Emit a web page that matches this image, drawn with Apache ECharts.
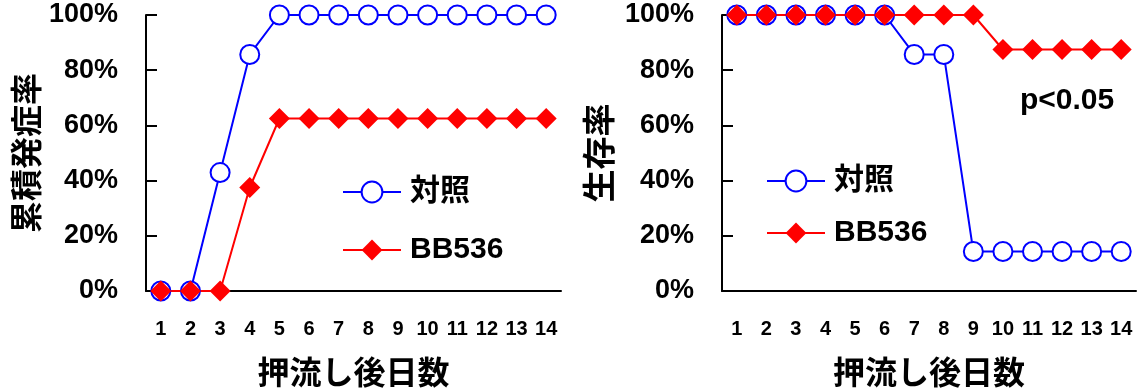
<!DOCTYPE html>
<html>
<head>
<meta charset="utf-8">
<script src="https://cdn.jsdelivr.net/npm/echarts@6/dist/echarts.min.js"></script>
<style>
  html, body { margin: 0; padding: 0; background: #fff; }
  #chart { width: 1140px; height: 389px; }
</style>
</head>
<body>
<div id="chart"></div>
<script>
// Days after challenge
const days = ['1', '2', '3', '4', '5', '6', '7', '8', '9', '10', '11', '12', '13', '14'];

// Cumulative onset rate (%)
const onsetControl = [0, 0, 42.9, 85.7, 100, 100, 100, 100, 100, 100, 100, 100, 100, 100];
const onsetBB536   = [0, 0, 0, 37.5, 62.5, 62.5, 62.5, 62.5, 62.5, 62.5, 62.5, 62.5, 62.5, 62.5];

// Survival rate (%)
const survivalControl = [100, 100, 100, 100, 100, 100, 85.7, 85.7, 14.3, 14.3, 14.3, 14.3, 14.3, 14.3];
const survivalBB536   = [100, 100, 100, 100, 100, 100, 100, 100, 100, 87.5, 87.5, 87.5, 87.5, 87.5];

const seriesNames = ['対照', 'BB536'];
const xAxisTitle = '押流し後日数';
const yAxisTitles = ['累積発症率', '生存率'];
const significance = 'p<0.05';

const FONT = "'Liberation Sans', 'Noto Sans CJK JP', sans-serif";
const BLUE = '#0000ff';
const RED = '#ff0000';

function xAxisFor(gridIndex) {
  return {
    type: 'category',
    gridIndex: gridIndex,
    data: days,
    boundaryGap: true,
    name: xAxisTitle,
    nameLocation: 'middle',
    nameGap: 68,
    nameTextStyle: { fontFamily: FONT, fontWeight: 'bold', fontSize: 32, color: '#000' },
    axisLine: { lineStyle: { color: '#000', width: 2 } },
    axisTick: { inside: true, length: 7, interval: 0, lineStyle: { color: '#000', width: 2 } },
    axisLabel: { interval: 0, margin: 28, fontFamily: FONT, fontWeight: 'bold', fontSize: 20, color: '#000' },
    splitLine: { show: false }
  };
}

function yAxisFor(gridIndex, title, titleSize, titleGap) {
  return {
    type: 'value',
    gridIndex: gridIndex,
    min: 0,
    max: 100,
    interval: 20,
    name: title,
    nameLocation: 'middle',
    nameGap: titleGap,
    nameTextStyle: { fontFamily: FONT, fontWeight: 'bold', fontSize: titleSize, color: '#000' },
    axisLine: { show: true, lineStyle: { color: '#000', width: 2 } },
    axisTick: { show: true, inside: true, length: 11, lineStyle: { color: '#000', width: 2 } },
    axisLabel: {
      margin: 28, formatter: '{value}%', fontFamily: FONT, fontWeight: 'bold', fontSize: 27, color: '#000',
      padding: [8, 0, 0, 0]
    },
    splitLine: { show: false }
  };
}

function controlSeries(axisIndex, values) {
  return {
    name: seriesNames[0],
    type: 'line',
    xAxisIndex: axisIndex,
    yAxisIndex: axisIndex,
    data: values,
    symbol: 'circle',
    symbolSize: 19,
    lineStyle: { color: BLUE, width: 2 },
    itemStyle: { color: '#fff', borderColor: BLUE, borderWidth: 2 },
    animation: false
  };
}

function bbSeries(axisIndex, values) {
  return {
    name: seriesNames[1],
    type: 'line',
    xAxisIndex: axisIndex,
    yAxisIndex: axisIndex,
    data: values,
    symbol: 'diamond',
    symbolSize: 21,
    lineStyle: { color: RED, width: 2 },
    itemStyle: { color: RED, borderWidth: 0 },
    animation: false
  };
}

function legendRow(name, left, top) {
  return {
    data: [name],
    left: left,
    top: top,
    padding: 0,
    itemWidth: 58,
    itemHeight: 26,
    selectedMode: false,
    textStyle: { fontFamily: FONT, fontWeight: 'bold', fontSize: 30, color: '#000', padding: [0, 0, 0, 4] }
  };
}

const chart = echarts.init(document.getElementById('chart'), null, { renderer: 'canvas' });

chart.setOption({
  backgroundColor: '#fff',
  animation: false,
  grid: [
    { left: 146, right: 579, top: 15, bottom: 98, containLabel: false, outerBoundsMode: 'none' },
    { left: 722, right: 4, top: 15, bottom: 98, containLabel: false, outerBoundsMode: 'none' }
  ],
  xAxis: [xAxisFor(0), xAxisFor(1)],
  yAxis: [yAxisFor(0, yAxisTitles[0], 32, 97), yAxisFor(1, yAxisTitles[1], 33, 104)],
  legend: [
    legendRow(seriesNames[0], 342, 177),
    legendRow(seriesNames[1], 342, 235),
    legendRow(seriesNames[0], 766, 166),
    legendRow(seriesNames[1], 766, 218)
  ],
  graphic: [
    {
      type: 'text',
      left: 1020,
      top: 86,
      style: { text: significance, fontFamily: FONT, fontWeight: 'bold', fontSize: 30, fill: '#000' }
    }
  ],
  series: [
    controlSeries(0, onsetControl),
    bbSeries(0, onsetBB536),
    controlSeries(1, survivalControl),
    bbSeries(1, survivalBB536)
  ]
});
</script>
</body>
</html>
